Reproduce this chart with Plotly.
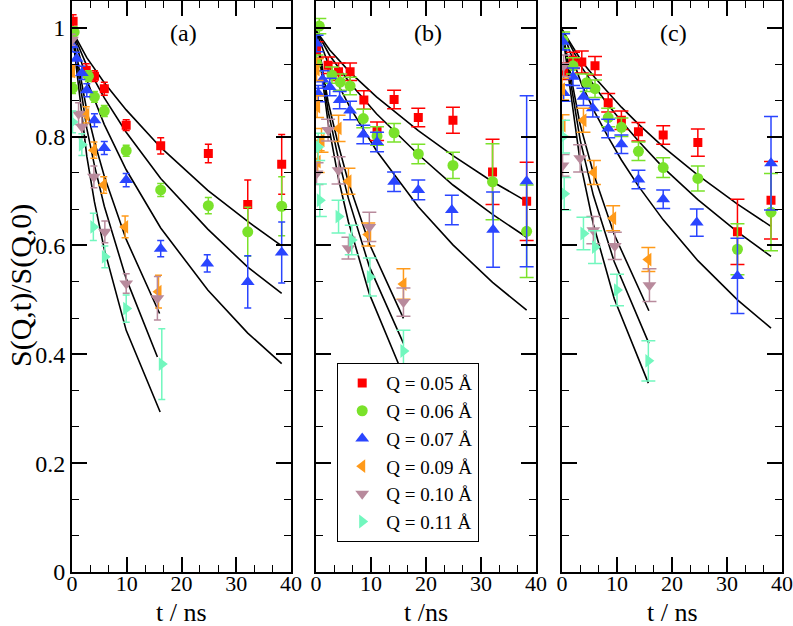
import plotly.graph_objects as go

# ---------------- data ----------------
series_names = ["Q = 0.05 Å", "Q = 0.06 Å", "Q = 0.07 Å", "Q = 0.09 Å", "Q = 0.10 Å", "Q = 0.11 Å"]
colors = ["#ff0000", "#7ae22a", "#2a45ff", "#ff9a1a", "#b88a9c", "#72f7be"]
symbols = ["square", "circle", "triangle-up", "triangle-left", "triangle-down", "triangle-right"]
sizes = [9, 11, 12, 12, 12, 12]

# Panel (a)
a_t = [
    [0.2, 2.6, 4.1, 5.9, 9.9, 16.2, 24.9, 32.1, 38.3],
    [0.1, 0.4, 3.0, 4.1, 5.9, 9.9, 16.2, 24.9, 32.1, 38.3],
    [0.0, 0.85, 1.8, 2.7, 4.1, 5.9, 9.9, 16.2, 24.7, 32.1, 38.3],
    [0.0, 2.6, 4.0, 5.8, 9.7, 15.8],
    [0.0, 1.2, 1.8, 4.0, 6.0, 9.9, 15.6],
    [0.1, 1.8, 3.9, 6.0, 9.9, 16.4],
]
a_y = [
    [1.012, 0.922, 0.911, 0.888, 0.821, 0.783, 0.769, 0.675, 0.749],
    [0.889, 0.992, 0.911, 0.873, 0.847, 0.774, 0.702, 0.673, 0.625, 0.672],
    [0.968, 0.943, 0.917, 0.885, 0.830, 0.779, 0.720, 0.594, 0.567, 0.533, 0.587],
    [0.920, 0.840, 0.775, 0.711, 0.634, 0.515],
    [0.978, 0.842, 0.818, 0.726, 0.625, 0.530, 0.503],
    [0.827, 0.785, 0.634, 0.579, 0.484, 0.382],
]
a_err = [
    [0.012, 0.012, 0.010, 0.012, 0.010, 0.015, 0.017, 0.045, 0.055],
    [0.010, 0.010, 0.010, 0.010, 0.010, 0.010, 0.012, 0.015, 0.045, 0.054],
    [0.012, 0.012, 0.012, 0.012, 0.012, 0.012, 0.012, 0.015, 0.016, 0.048, 0.056],
    [0.010, 0.015, 0.015, 0.015, 0.020, 0.030],
    [0.010, 0.020, 0.020, 0.020, 0.020, 0.018, 0.040],
    [0.020, 0.020, 0.025, 0.020, 0.025, 0.065],
]
a_fit_t = [
    [0, 2.7, 5.9, 9.9, 16.2, 24.8, 32.1, 38.3],
    [0, 2.7, 5.9, 9.9, 16.2, 24.8, 32.1, 38.3],
    [0, 2.7, 5.9, 9.9, 16.2, 24.8, 32.1, 38.3],
    [0, 2.7, 4.1, 5.9, 9.9, 16.0],
    [0, 2.7, 4.1, 5.9, 9.9, 15.6],
    [0, 2.7, 4.1, 5.9, 9.9, 16.1],
]
a_fit_y = [
    [0.995, 0.945, 0.899, 0.849, 0.780, 0.701, 0.644, 0.599],
    [0.995, 0.930, 0.871, 0.808, 0.723, 0.630, 0.560, 0.512],
    [0.995, 0.904, 0.822, 0.739, 0.632, 0.518, 0.439, 0.383],
    [0.995, 0.848, 0.791, 0.727, 0.611, 0.475],
    [0.995, 0.815, 0.747, 0.672, 0.539, 0.395],
    [0.995, 0.764, 0.680, 0.593, 0.444, 0.294],
]

# Panel (b)
b_t = [
    [0.1, 2.2, 4.1, 6.2, 8.7, 11.1, 14.2, 18.6, 24.9, 32.1, 38.3],
    [0.1, 0.6, 2.9, 4.4, 6.2, 8.6, 11.1, 14.2, 18.6, 24.9, 32.1, 38.3],
    [0.1, 0.4, 1.2, 2.5, 4.3, 6.2, 8.6, 11.1, 14.2, 18.6, 24.7, 32.2, 38.3],
    [0.1, 0.2, 0.3, 1.0, 4.1, 5.9, 9.5, 15.9],
    [0.1, 2.2, 4.1, 5.9, 9.7, 15.9],
    [0.4, 0.7, 4.1, 6.5, 9.8, 15.9],
]
b_y = [
    [0.959, 0.931, 0.919, 0.919, 0.867, 0.810, 0.868, 0.835, 0.830, 0.735, 0.681],
    [0.935, 1.003, 0.913, 0.900, 0.893, 0.833, 0.801, 0.807, 0.768, 0.747, 0.717, 0.626],
    [0.971, 0.879, 0.905, 0.891, 0.867, 0.848, 0.804, 0.790, 0.717, 0.702, 0.665, 0.629, 0.718],
    [0.923, 0.855, 0.754, 0.793, 0.815, 0.718, 0.620, 0.529],
    [0.732, 0.812, 0.738, 0.595, 0.634, 0.496],
    [0.781, 0.683, 0.653, 0.610, 0.542, 0.406],
]
b_err = [
    [0.015, 0.015, 0.016, 0.016, 0.017, 0.017, 0.017, 0.017, 0.024, 0.060, 0.072],
    [0.015, 0.014, 0.015, 0.015, 0.016, 0.017, 0.017, 0.017, 0.018, 0.024, 0.070, 0.085],
    [0.015, 0.015, 0.016, 0.016, 0.016, 0.017, 0.017, 0.018, 0.018, 0.018, 0.027, 0.069, 0.157],
    [0.020, 0.020, 0.020, 0.022, 0.024, 0.024, 0.021, 0.028],
    [0.020, 0.020, 0.025, 0.020, 0.027, 0.026],
    [0.025, 0.030, 0.030, 0.027, 0.035, 0.038],
]
b_fit_t = [
    [0, 2.5, 6.2, 11, 18.6, 24.9, 32.1, 38.3],
    [0, 2.5, 6.2, 11, 18.6, 24.9, 32.1, 38.3],
    [0, 2.5, 6.2, 11, 18.6, 24.9, 32.1, 38.3],
    [0, 2.2, 4.1, 5.9, 9.7, 15.9],
    [0, 2.2, 4.1, 5.9, 9.7, 15.9],
    [0, 2.2, 4.1, 5.9, 9.7, 15.6],
]
b_fit_y = [
    [0.995, 0.959, 0.918, 0.873, 0.811, 0.765, 0.717, 0.681],
    [0.995, 0.949, 0.898, 0.842, 0.767, 0.711, 0.657, 0.615],
    [0.995, 0.926, 0.853, 0.774, 0.671, 0.601, 0.532, 0.481],
    [0.995, 0.864, 0.783, 0.716, 0.603, 0.466],
    [0.995, 0.847, 0.758, 0.686, 0.561, 0.420],
    [0.995, 0.825, 0.722, 0.643, 0.511, 0.368],
]

# Panel (c)
c_t = [
    [0.3, 2.0, 3.6, 6.0, 8.4, 10.8, 13.9, 18.4, 24.7, 31.9, 38.0],
    [0.2, 2.0, 4.5, 6.0, 8.4, 10.8, 13.9, 18.4, 24.7, 31.9, 38.0],
    [0.2, 0.3, 2.0, 3.9, 5.6, 8.4, 10.8, 13.9, 18.4, 24.5, 31.9, 38.0],
    [0.0, 0.1, 3.9, 5.8, 9.3, 15.7],
    [0.1, 0.3, 3.3, 5.7, 9.6, 15.9],
    [0.2, 0.4, 3.9, 6.0, 10.0, 15.7],
]
c_y = [
    [0.920, 0.940, 0.937, 0.930, 0.862, 0.830, 0.809, 0.803, 0.789, 0.625, 0.683],
    [0.977, 0.930, 0.899, 0.888, 0.835, 0.817, 0.773, 0.743, 0.723, 0.593, 0.661],
    [0.974, 0.880, 0.910, 0.873, 0.852, 0.815, 0.786, 0.721, 0.685, 0.642, 0.544, 0.751],
    [0.887, 0.820, 0.830, 0.734, 0.650, 0.574],
    [0.747, 0.930, 0.760, 0.628, 0.599, 0.527],
    [0.800, 0.695, 0.622, 0.597, 0.518, 0.388],
]
c_err = [
    [0.015, 0.015, 0.020, 0.017, 0.017, 0.017, 0.017, 0.017, 0.025, 0.060, 0.071],
    [0.015, 0.015, 0.016, 0.016, 0.017, 0.017, 0.017, 0.018, 0.023, 0.047, 0.071],
    [0.015, 0.015, 0.016, 0.016, 0.016, 0.017, 0.017, 0.017, 0.017, 0.025, 0.069, 0.086],
    [0.020, 0.020, 0.022, 0.022, 0.023, 0.022],
    [0.020, 0.020, 0.025, 0.025, 0.025, 0.030],
    [0.030, 0.030, 0.030, 0.030, 0.029, 0.037],
]
c_fit_t = [
    [0, 3.6, 6, 8.4, 10.8, 13.9, 18.4, 24.7, 31.9, 38],
    [0, 3.6, 6, 8.4, 10.8, 13.9, 18.4, 24.7, 31.9, 38],
    [0, 3.6, 6, 8.4, 10.8, 13.9, 18.4, 24.7, 31.9, 38],
    [0, 3.3, 5.7, 9.5, 15.8],
    [0, 3.3, 5.7, 9.5, 15.8],
    [0, 3.3, 5.7, 9.5, 15.7],
]
c_fit_y = [
    [0.997, 0.938, 0.908, 0.880, 0.854, 0.823, 0.781, 0.729, 0.676, 0.635],
    [0.997, 0.927, 0.891, 0.858, 0.828, 0.792, 0.743, 0.684, 0.625, 0.580],
    [0.997, 0.895, 0.844, 0.799, 0.757, 0.709, 0.647, 0.572, 0.500, 0.448],
    [0.997, 0.822, 0.733, 0.620, 0.480],
    [0.997, 0.794, 0.692, 0.570, 0.420],
    [0.997, 0.754, 0.639, 0.502, 0.347],
]

panel_labels = ["(a)", "(b)", "(c)"]
x_titles = ["t / ns", "t /ns", "t / ns"]
y_title = "S(Q,t)/S(Q,0)"
x_tick_vals = [0, 10, 20, 30, 40]
x_tick_text = ["0", "10", "20", "30", "40"]
y_tick_vals = [0, 0.2, 0.4, 0.6, 0.8, 1.0]
y_tick_text = ["0", "0.2", "0.4", "0.6", "0.8", "1"]

# ---------------- figure ----------------
FONT = "Liberation Serif"
W, H = 793, 626
panel_px = [(72, 291), (316, 536), (562, 782)]
y_top_px, y_bot_px = 0.5, 572

fig = go.Figure()
panels = [
    (a_t, a_y, a_err, a_fit_t, a_fit_y, 3.5),
    (b_t, b_y, b_err, b_fit_t, b_fit_y, 7),
    (c_t, c_y, c_err, c_fit_t, c_fit_y, 7),
]
for p, (ts, ys, es, fts, fys, capw) in enumerate(panels):
    xa = "x" if p == 0 else f"x{p+1}"
    ya = "y" if p == 0 else f"y{p+1}"
    for i in range(6):
        fig.add_trace(go.Scatter(
            x=fts[i], y=fys[i], mode="lines", xaxis=xa, yaxis=ya,
            line=dict(color="black", width=1.6), showlegend=False, hoverinfo="skip"))
    for i in range(6):
        fig.add_trace(go.Scatter(
            x=ts[i], y=ys[i], mode="markers", xaxis=xa, yaxis=ya,
            name=series_names[i], legendgroup=f"g{i}", showlegend=(p == 0),
            marker=dict(symbol=symbols[i], size=sizes[i], color=colors[i], line=dict(width=0)),
            error_y=dict(type="data", array=es[i], color=colors[i], thickness=1.5, width=capw)))

layout = dict(
    template="none",
    width=W, height=H, margin=dict(l=0, r=0, t=0, b=0, autoexpand=False),
    paper_bgcolor="white", plot_bgcolor="white",
    font=dict(family=FONT, color="black", size=22),
    showlegend=True,
    legend=dict(x=337 / W, y=1 - 363 / H, xanchor="left", yanchor="top",
                bordercolor="black", borderwidth=1.2, bgcolor="white",
                font=dict(family=FONT, size=19), tracegroupgap=0,
                itemwidth=38),
)
ydom = [1 - y_bot_px / H, 1 - y_top_px / H]
annotations = []
for p in range(3):
    sfx = "" if p == 0 else str(p + 1)
    x0, x1 = panel_px[p]
    layout["xaxis" + sfx] = dict(
        domain=[x0 / W, x1 / W], range=[0, 40], anchor="y" + sfx, automargin=False,
        tickmode="array", tickvals=x_tick_vals, ticktext=x_tick_text,
        ticks="inside", ticklen=15, tickwidth=1.6, tickcolor="black",
        minor=dict(dtick=10 / 3, ticks="inside", ticklen=7, tickwidth=1.4, tickcolor="black"),
        showline=True, linewidth=2, linecolor="black", mirror="allticks",
        showgrid=False, zeroline=False, ticklabelstandoff=-9,
        tickfont=dict(size=22, family=FONT))
    layout["yaxis" + sfx] = dict(
        domain=ydom, range=[0, 1.05], anchor="x" + sfx, automargin=False,
        tickmode="array", tickvals=y_tick_vals, ticktext=y_tick_text,
        ticks="inside", ticklen=15, tickwidth=1.6, tickcolor="black",
        minor=dict(dtick=0.2 / 3, ticks="inside", ticklen=7, tickwidth=1.4, tickcolor="black"),
        showline=True, linewidth=2, linecolor="black", mirror="allticks",
        showgrid=False, zeroline=False, showticklabels=(p == 0),
        tickfont=dict(size=24, family=FONT))
    annotations.append(dict(x=20.3, y=0.99, xref="x" + sfx, yref="y" + sfx,
                            text=panel_labels[p], showarrow=False,
                            xanchor="center", yanchor="middle",
                            font=dict(size=24, family=FONT)))
    annotations.append(dict(x=(x0 + x1) / 2 / W, y=1 - 612 / H, xref="paper", yref="paper",
                            text=x_titles[p], showarrow=False,
                            xanchor="center", yanchor="middle",
                            font=dict(size=26, family=FONT)))
annotations.append(dict(x=21 / W, y=1 - 286 / H, xref="paper", yref="paper",
                        text=y_title, textangle=-90, showarrow=False,
                        xanchor="center", yanchor="middle",
                        font=dict(size=30, family=FONT)))
layout["annotations"] = annotations
fig.update_layout(**layout)
fig.write_html("out.html", config={"displayModeBar": False},
               post_script="document.body.style.margin='0';")
